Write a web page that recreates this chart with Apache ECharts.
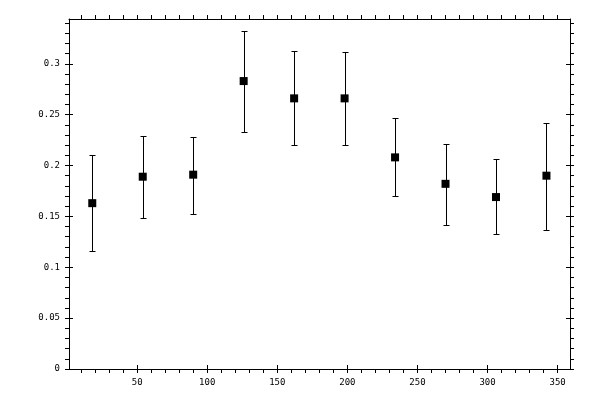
<!DOCTYPE html>
<html>
<head>
<meta charset="utf-8">
<script src="https://cdn.jsdelivr.net/npm/echarts@6/dist/echarts.min.js"></script>
<style>
  html, body { margin: 0; padding: 0; background: #fff; }
  #chart { width: 600px; height: 400px; }
</style>
</head>
<body>
<div id="chart"></div>
<script>
// data
const xValues = [18, 54, 90, 126, 162, 198, 234, 270, 306, 342];
const yValues = [0.163, 0.189, 0.191, 0.283, 0.266, 0.266, 0.208, 0.182, 0.169, 0.190];
const yLow    = [0.116, 0.148, 0.152, 0.233, 0.220, 0.220, 0.170, 0.142, 0.133, 0.137];
const yHigh   = [0.210, 0.229, 0.228, 0.332, 0.313, 0.312, 0.247, 0.221, 0.206, 0.242];

// tick labels
const xMajor = [50, 100, 150, 200, 250, 300, 350];
const xMinor = [10, 20, 30, 40, 50, 60, 70, 80, 90, 100, 110, 120, 130, 140, 150, 160, 170,
                180, 190, 200, 210, 220, 230, 240, 250, 260, 270, 280, 290, 300, 310, 320, 330, 340, 350];
const yMajor = [0, 0.05, 0.1, 0.15, 0.2, 0.25, 0.3];
const yMinor = [];
for (let i = 0; i <= 34; i++) yMinor.push(i / 100);

const X_MIN = 1.4, X_MAX = 358.8;
const Y_MIN = 0, Y_MAX = 0.344;

const chart = echarts.init(document.getElementById('chart'));

const lineStyle = { color: '#000', width: 1 };
const font = { fontFamily: 'DejaVu Sans Mono', fontSize: 9, color: '#000' };

// outward ticks (minor + major) and inward major ticks, on each side
function xAxisPair(pos, withLabels) {
    return [{
        type: 'value', position: pos, min: X_MIN, max: X_MAX,
        axisLine: { show: true, onZero: false, lineStyle: lineStyle },
        axisTick: { show: true, inside: false, length: 4, customValues: xMinor, lineStyle: lineStyle },
        axisLabel: withLabels
            ? Object.assign({ show: true, margin: 9, customValues: xMajor }, font)
            : { show: false },
        splitLine: { show: false }
    }, {
        type: 'value', position: pos, min: X_MIN, max: X_MAX,
        axisLine: { show: false },
        axisTick: { show: true, inside: true, length: 4, customValues: xMajor, lineStyle: lineStyle },
        axisLabel: { show: false },
        splitLine: { show: false }
    }];
}

function yAxisPair(pos, withLabels) {
    return [{
        type: 'value', position: pos, min: Y_MIN, max: Y_MAX,
        axisLine: { show: true, onZero: false, lineStyle: lineStyle },
        axisTick: { show: true, inside: false, length: 4, customValues: yMinor, lineStyle: lineStyle },
        axisLabel: withLabels
            ? Object.assign({ show: true, margin: 9, customValues: yMajor,
                formatter: v => String(+v.toFixed(2)) }, font)
            : { show: false },
        splitLine: { show: false }
    }, {
        type: 'value', position: pos, min: Y_MIN, max: Y_MAX,
        axisLine: { show: false },
        axisTick: { show: true, inside: true, length: 4, customValues: yMajor, lineStyle: lineStyle },
        axisLabel: { show: false },
        splitLine: { show: false }
    }];
}

const points = xValues.map((x, i) => [x, yValues[i]]);
const errors = xValues.map((x, i) => [x, yLow[i], yHigh[i]]);

// snap to pixel centres so 1px lines stay crisp black
const px = v => Math.round(v) + 0.5;

const option = {
    animation: false,
    backgroundColor: '#fff',
    grid: { left: 69, right: 30, top: 19, bottom: 31, containLabel: false },
    xAxis: xAxisPair('bottom', true).concat(xAxisPair('top', false)),
    yAxis: yAxisPair('left', true).concat(yAxisPair('right', false)),
    series: [{
        type: 'custom',
        xAxisIndex: 0, yAxisIndex: 0,
        data: errors,
        renderItem: function (params, api) {
            const lo = api.coord([api.value(0), api.value(1)]);
            const hi = api.coord([api.value(0), api.value(2)]);
            const x = px(lo[0]), y1 = px(lo[1]), y2 = px(hi[1]);
            const cap = 3;
            const st = { stroke: '#000', lineWidth: 1 };
            return {
                type: 'group',
                children: [
                    { type: 'line', shape: { x1: x, y1: y1, x2: x, y2: y2 }, style: st },
                    { type: 'line', shape: { x1: x - cap, y1: y1, x2: x + cap, y2: y1 }, style: st },
                    { type: 'line', shape: { x1: x - cap, y1: y2, x2: x + cap, y2: y2 }, style: st }
                ]
            };
        },
        z: 2
    }, {
        type: 'scatter',
        xAxisIndex: 0, yAxisIndex: 0,
        data: points,
        symbol: 'rect',
        symbolSize: 8,
        itemStyle: { color: '#000', opacity: 1 },
        emphasis: { disabled: true },
        z: 3
    }]
};

chart.setOption(option);
</script>
</body>
</html>
